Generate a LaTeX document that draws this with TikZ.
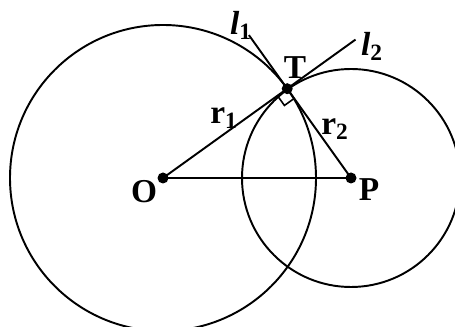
\documentclass[tikz,border=0pt]{standalone}
\usepackage{fontspec}
\setmainfont{Liberation Serif}
\usetikzlibrary{calc}
\tikzset{
  curve/.style={line width=1.1pt, draw=black},
  seg/.style={line width=1.1pt, draw=black},
  lbl/.style={font=\fontsize{19}{22}\selectfont\bfseries, inner sep=0pt},
  dot/.style={circle, fill=black, inner sep=0pt, minimum size=2.2mm},
}
\begin{document}
\begin{tikzpicture}[x=0.2mm, y=-0.2mm]
  \useasboundingbox (0,0) rectangle (455,327);
  % centres and point of contact
  \coordinate (O) at (163,178);
  \coordinate (P) at (351,178);
  \coordinate (T) at (287.2,88.7);

  % the two circles
  \draw[curve] (O) circle[radius=153];
  \draw[curve] (P) circle[radius=109];

  % radii, centre line and the two tangents
  \coordinate (l1end) at ($(T)!-0.6!(P)$);
  \coordinate (l2end) at ($(T)!-0.55!(O)$);
  \draw[seg] (O) -- (P);
  \draw[seg] (O) -- (l2end);
  \draw[seg] (P) -- (l1end);

  % right angle at T
  \coordinate (ra) at ($(T)!2.4mm!(O)$);
  \coordinate (rb) at ($(T)!2.4mm!(P)$);
  \draw[line width=0.9pt] (ra) -- ($(ra)+(rb)-(T)$) -- (rb);

  \node[dot] (dO) at (O) {};
  \node[dot] (dP) at (P) {};
  \node[dot] (dT) at (T) {};

  \node[lbl] (lO) at (144,192) {O};
  \node[lbl] (lP) at (369,190) {P};
  \node[lbl] (lT) at (295,68) {T};
  \node[lbl] (lr1) at (224,118) {r\textsubscript{1}};
  \node[lbl] (lr2) at (335,129) {r\textsubscript{2}};
  \node[lbl] (ll1) at (241,25) {\itshape l\textsubscript{\upshape 1}};
  \node[lbl] (ll2) at (372,46) {\itshape l\textsubscript{\upshape 2}};
\end{tikzpicture}
\end{document}
